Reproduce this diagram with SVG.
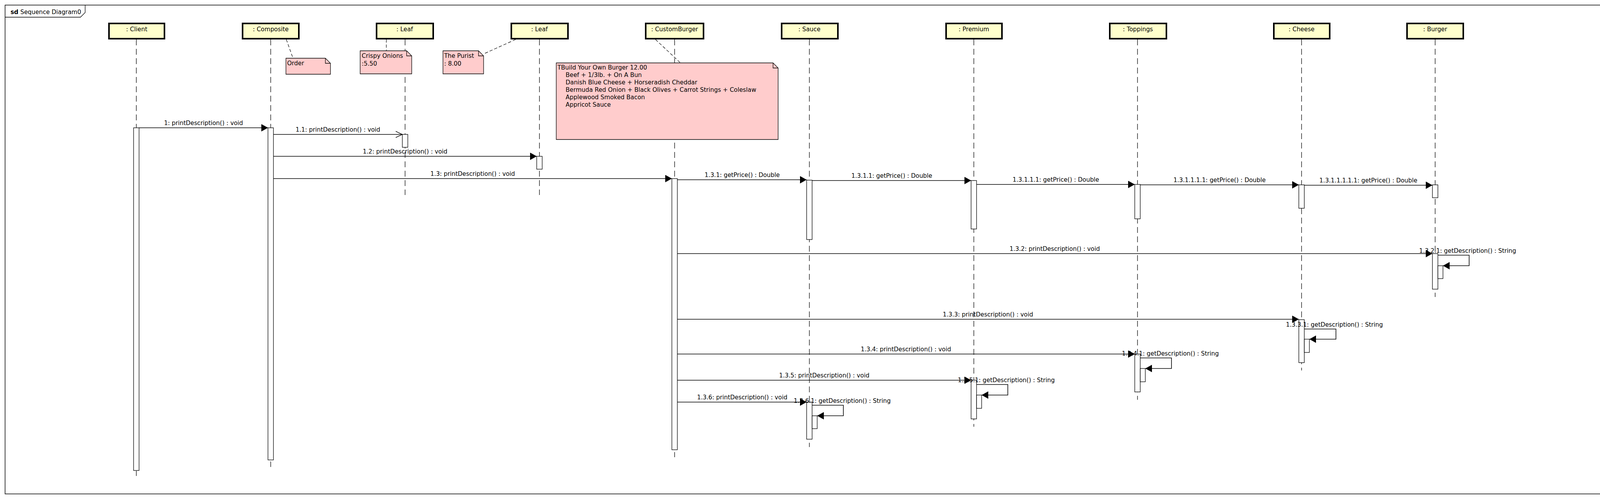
<svg xmlns="http://www.w3.org/2000/svg" width="4184" height="1277" viewBox="0 0 4184 1277">
<style>
text{font-family:"DejaVu Sans","Liberation Sans",sans-serif;font-size:15.3px;fill:#000}
.box{fill:#FFFFCC;stroke:#000;stroke-width:4}
.name{text-anchor:middle}
.life{stroke:#000;stroke-width:1.3;stroke-dasharray:15 9;fill:none}
.act{fill:#fff;stroke:#000;stroke-width:1.3}
.note{fill:#FFCCCC;stroke:#000;stroke-width:1.3}
.fold{fill:none;stroke:#000;stroke-width:1.3}
.link{stroke:#000;stroke-width:1.2;stroke-dasharray:8 5;fill:none}
.msg{stroke:#000;stroke-width:1.6;fill:none}
.lbl{text-anchor:middle}
</style>
<defs>
<marker id="fa" markerUnits="userSpaceOnUse" markerWidth="18" markerHeight="20" refX="17" refY="9.5" orient="auto" viewBox="0 0 18 20">
<path d="M0,0 L17,9.5 L0,19 Z" fill="#000"/>
</marker>
<marker id="oa" markerUnits="userSpaceOnUse" markerWidth="20" markerHeight="20" refX="17" refY="9" orient="auto" viewBox="0 0 20 20">
<path d="M0,1 L17,9 L0,17" fill="none" stroke="#000" stroke-width="1.4"/>
</marker>
</defs>
<rect width="4184" height="1277" fill="#fff"/>
<g id="frame">
<rect x="13" y="13" width="4158" height="1251" fill="none" stroke="#000" stroke-width="1.5"/>
<path d="M13,44 H206 L218,32 V13" fill="none" stroke="#000" stroke-width="1.3"/>
<text x="27" y="36"><tspan font-weight="bold">sd</tspan> Sequence Diagram0</text>
</g>
<g id="client">
<line class="life" x1="349" y1="101" x2="349" y2="1218"/>
<rect class="box" x="279" y="60" width="142" height="39"/>
<text class="name" x="350" y="80">: Client</text>
<rect class="act" x="342" y="327" width="14" height="877"/>
</g>
<g id="composite">
<line class="life" x1="693" y1="101" x2="693" y2="1195"/>
<rect class="box" x="621" y="60" width="144" height="39"/>
<text class="name" x="693" y="80">: Composite</text>
<rect class="act" x="686" y="327" width="14" height="850"/>
</g>
<g id="leaf1">
<line class="life" x1="1037" y1="101" x2="1037" y2="499"/>
<rect class="box" x="964" y="60" width="145" height="39"/>
<text class="name" x="1036" y="80">: Leaf</text>
<rect class="act" x="1030" y="344" width="14" height="33"/>
</g>
<g id="leaf2">
<line class="life" x1="1381" y1="101" x2="1381" y2="499"/>
<rect class="box" x="1309" y="60" width="145" height="39"/>
<text class="name" x="1381" y="80">: Leaf</text>
<rect class="act" x="1374" y="400" width="14" height="33"/>
</g>
<g id="customburger">
<line class="life" x1="1727" y1="101" x2="1727" y2="1170"/>
<rect class="box" x="1653" y="60" width="148" height="39"/>
<text class="name" x="1727" y="80">: CustomBurger</text>
<rect class="act" x="1720" y="457" width="14" height="694"/>
</g>
<g id="sauce">
<line class="life" x1="2072" y1="101" x2="2072" y2="1144"/>
<rect class="box" x="2001" y="60" width="144" height="39"/>
<text class="name" x="2072" y="80">: Sauce</text>
<rect class="act" x="2065" y="461" width="14" height="152"/>
<rect class="act" x="2065" y="1029" width="14" height="95"/>
<rect class="act" x="2079" y="1064" width="13" height="33"/>
</g>
<g id="premium">
<line class="life" x1="2493" y1="101" x2="2493" y2="1092"/>
<rect class="box" x="2422" y="60" width="143" height="39"/>
<text class="name" x="2493" y="80">: Premium</text>
<rect class="act" x="2486" y="462" width="14" height="124"/>
<rect class="act" x="2486" y="973" width="14" height="99"/>
<rect class="act" x="2500" y="1011" width="13" height="34"/>
</g>
<g id="toppings">
<line class="life" x1="2912" y1="101" x2="2912" y2="1023"/>
<rect class="box" x="2841" y="60" width="145" height="39"/>
<text class="name" x="2913" y="80">: Toppings</text>
<rect class="act" x="2905" y="472" width="14" height="88"/>
<rect class="act" x="2905" y="906" width="14" height="97"/>
<rect class="act" x="2919" y="943" width="13" height="34"/>
</g>
<g id="cheese">
<line class="life" x1="3332" y1="101" x2="3332" y2="948"/>
<rect class="box" x="3261" y="60" width="143" height="39"/>
<text class="name" x="3332" y="80">: Cheese</text>
<rect class="act" x="3325" y="473" width="14" height="60"/>
<rect class="act" x="3325" y="818" width="14" height="110"/>
<rect class="act" x="3339" y="868" width="13" height="34"/>
</g>
<g id="burger">
<line class="life" x1="3674" y1="101" x2="3674" y2="760"/>
<rect class="box" x="3602" y="60" width="144" height="39"/>
<text class="name" x="3674" y="80">: Burger</text>
<rect class="act" x="3667" y="473" width="14" height="33"/>
<rect class="act" x="3667" y="649" width="14" height="91"/>
<rect class="act" x="3681" y="680" width="13" height="33"/>
</g>
<g id="note-order">
<path class="note" d="M732,149 H833 L846,162 V190 H732 Z"/>
<path class="fold" d="M833,149 V162 H846"/>
<text x="735" y="167">Order</text>
</g>
<g id="note-crispy">
<path class="note" d="M922,130 H1041 L1054,143 V189 H922 Z"/>
<path class="fold" d="M1041,130 V143 H1054"/>
<text x="926" y="148">Crispy Onions</text>
<text x="926" y="168">:5.50</text>
</g>
<g id="note-purist">
<path class="note" d="M1134,130 H1225 L1238,143 V189 H1134 Z"/>
<path class="fold" d="M1225,130 V143 H1238"/>
<text x="1137" y="148">The Purist</text>
<text x="1137" y="168">: 8.00</text>
</g>
<g id="note-customburger">
<path class="note" d="M1424,161 H1979 L1992,174 V357 H1424 Z"/>
<path class="fold" d="M1979,161 V174 H1992"/>
<text x="1427" y="178">TBuild Your Own Burger 12.00</text>
<text x="1448" y="197">Beef + 1/3lb. + On A Bun</text>
<text x="1448" y="216">Danish Blue Cheese + Horseradish Cheddar</text>
<text x="1448" y="235">Bermuda Red Onion + Black Olives + Carrot Strings + Coleslaw</text>
<text x="1448" y="254">Applewood Smoked Bacon</text>
<text x="1448" y="273">Appricot Sauce</text>
</g>
<g id="connectors">
<line class="link" x1="733" y1="101" x2="750" y2="149"/>
<line class="link" x1="989" y1="101" x2="989" y2="130"/>
<line class="link" x1="1320" y1="101" x2="1238" y2="138"/>
<line class="link" x1="1678" y1="101" x2="1742" y2="161"/>

<line class="msg" x1="356" y1="327" x2="686" y2="327" marker-end="url(#fa)"/>
<text class="lbl" x="521" y="320">1: printDescription() : void</text>
<line class="msg" x1="700" y1="344" x2="1030" y2="344" marker-end="url(#oa)"/>
<text class="lbl" x="865" y="337">1.1: printDescription() : void</text>
<line class="msg" x1="700" y1="400" x2="1374" y2="400" marker-end="url(#fa)"/>
<text class="lbl" x="1037" y="393">1.2: printDescription() : void</text>
<line class="msg" x1="700" y1="457" x2="1720" y2="457" marker-end="url(#fa)"/>
<text class="lbl" x="1210" y="450">1.3: printDescription() : void</text>
<line class="msg" x1="1734" y1="460" x2="2065" y2="460" marker-end="url(#fa)"/>
<text class="lbl" x="1900" y="453">1.3.1: getPrice() : Double</text>
<line class="msg" x1="2079" y1="462" x2="2486" y2="462" marker-end="url(#fa)"/>
<text class="lbl" x="2283" y="455">1.3.1.1: getPrice() : Double</text>
<line class="msg" x1="2500" y1="472" x2="2905" y2="472" marker-end="url(#fa)"/>
<text class="lbl" x="2703" y="465">1.3.1.1.1: getPrice() : Double</text>
<line class="msg" x1="2919" y1="473" x2="3325" y2="473" marker-end="url(#fa)"/>
<text class="lbl" x="3122" y="466">1.3.1.1.1.1: getPrice() : Double</text>
<line class="msg" x1="3339" y1="474" x2="3667" y2="474" marker-end="url(#fa)"/>
<text class="lbl" x="3503" y="467">1.3.1.1.1.1.1: getPrice() : Double</text>

<line class="msg" x1="1734" y1="649" x2="3667" y2="649" marker-end="url(#fa)"/>
<text class="lbl" x="2700" y="642">1.3.2: printDescription() : void</text>
<polyline class="msg" points="3681,653 3761,653 3761,680 3694,680" marker-end="url(#fa)"/>
<text x="3633" y="647">1.3.2.1: getDescription() : String</text>

<line class="msg" x1="1734" y1="817" x2="3325" y2="817" marker-end="url(#fa)"/>
<text class="lbl" x="2529" y="810">1.3.3: printDescription() : void</text>
<polyline class="msg" points="3339,842 3420,842 3420,868 3352,868" marker-end="url(#fa)"/>
<text x="3292" y="836">1.3.3.1: getDescription() : String</text>

<line class="msg" x1="1734" y1="906" x2="2905" y2="906" marker-end="url(#fa)"/>
<text class="lbl" x="2319" y="899">1.3.4: printDescription() : void</text>
<polyline class="msg" points="2919,916 2999,916 2999,943 2932,943" marker-end="url(#fa)"/>
<text x="2872" y="910">1.3.4.1: getDescription() : String</text>

<line class="msg" x1="1734" y1="973" x2="2486" y2="973" marker-end="url(#fa)"/>
<text class="lbl" x="2110" y="966">1.3.5: printDescription() : void</text>
<polyline class="msg" points="2500,984 2580,984 2580,1011 2513,1011" marker-end="url(#fa)"/>
<text x="2452" y="978">1.3.5.1: getDescription() : String</text>

<line class="msg" x1="1734" y1="1029" x2="2065" y2="1029" marker-end="url(#fa)"/>
<text class="lbl" x="1900" y="1022">1.3.6: printDescription() : void</text>
<polyline class="msg" points="2079,1037 2159,1037 2159,1064 2092,1064" marker-end="url(#fa)"/>
<text x="2032" y="1031">1.3.6.1: getDescription() : String</text>
</g>
</svg>
